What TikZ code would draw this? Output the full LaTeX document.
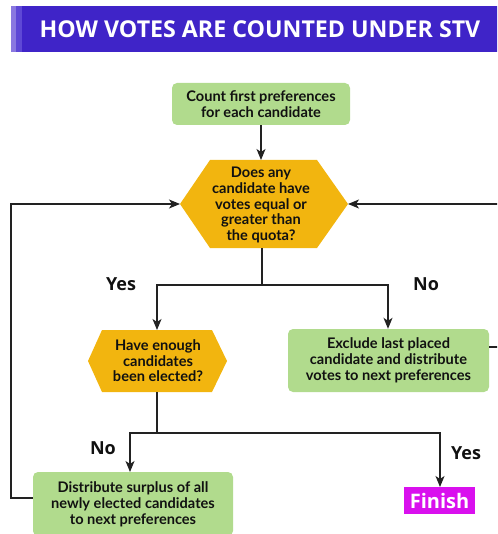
\documentclass[tikz,border=0pt]{standalone}
\usepackage{fontspec}
\setmainfont{Lato}
\newfontfamily\titlefont{Open Sans}
\usetikzlibrary{arrows.meta}
\definecolor{barmain}{HTML}{3F24C8}
\definecolor{barlight}{HTML}{8A78E0}
\definecolor{barmid}{HTML}{5E48D6}
\definecolor{boxgreen}{HTML}{B1DB8D}
\definecolor{hexorange}{HTML}{F2B50F}
\definecolor{finmag}{HTML}{D910EE}
\definecolor{linegray}{HTML}{222222}
\definecolor{txtblack}{HTML}{111111}
\tikzset{
  greenbox/.style={fill=boxgreen, rounded corners=5pt, align=center, text=txtblack,
    font=\bfseries\fontsize{14.6}{16}\selectfont, inner sep=0pt},
  hextext/.style={align=center, text=txtblack, font=\bfseries\fontsize{14.6}{15.6}\selectfont, inner sep=0pt},
  conn/.style={draw=linegray, line width=1.3pt},
  arr/.style={conn, -{Stealth[length=11pt,width=9pt,inset=3pt]}},
  branchlabel/.style={font=\titlefont\bfseries\fontsize{18}{20}\selectfont, text=txtblack, inner sep=0pt},
}
\begin{document}
\begin{tikzpicture}[x=1pt,y=-1pt]
\useasboundingbox (0,0) rectangle (497,534);
\clip (0,0) rectangle (497,534);
% title bar
\fill[barlight] (11,6) rectangle (16,52);
\fill[barmid] (16,6) rectangle (22,52);
\fill[barmain] (22,6) rectangle (500,52);
\node[text=white, font=\titlefont\bfseries\fontsize{23.2}{26}\selectfont, inner sep=0pt] (title) at (260,29) {HOW VOTES ARE COUNTED UNDER STV};

% first box
\node[greenbox, minimum width=178pt, minimum height=42pt] (count) at (261,104) {Count first preferences\\for each candidate};

% hexagon A
\fill[hexorange] (180,204) -- (210,160) -- (317,160) -- (348,204) -- (317,248) -- (210,248) -- cycle;
\coordinate (hA-n) at (261,160);
\coordinate (hA-s) at (262,248);
\coordinate (hA-w) at (180,204);
\coordinate (hA-e) at (348,204);
\node[hextext] (quota) at (261,205) {Does any\\candidate have\\votes equal or\\greater than\\the quota?};

% hexagon B
\fill[hexorange] (88,361) -- (102,330) -- (212,330) -- (227,361) -- (212,392) -- (102,392) -- cycle;
\coordinate (hB-n) at (157,330);
\coordinate (hB-s) at (157,392);
\node[hextext] (enough) at (158,361) {Have enough\\candidates\\been elected?};

% exclude box
\node[greenbox, minimum width=201pt, minimum height=63pt] (excl) at (388.5,360.5) {Exclude last placed\\candidate and distribute\\votes to next preferences};

% distribute box
\node[greenbox, minimum width=200pt, minimum height=64pt] (dist) at (133,504) {Distribute surplus of all\\newly elected candidates\\to next preferences};

% finish
\node[fill=finmag, text=white, font=\titlefont\bfseries\fontsize{20}{22}\selectfont, minimum width=71pt, minimum height=27pt, inner sep=0pt] (finish) at (439.5,500.5) {Finish};

% labels
\node[branchlabel] (yes1) at (121,284) {Yes};
\node[branchlabel] (no1) at (426,284) {No};
\node[branchlabel] (no2) at (103,448) {No};
\node[branchlabel] (yes2) at (466,453) {Yes};

% connectors
\draw[arr] (count.south) -- (hA-n);
\coordinate (split1) at (262,285);
\draw[conn] (hA-s) -- (split1);
\draw[arr] (split1) -| (hB-n);
\draw[arr] (split1) -| ([xshift=-0.5pt]excl.north);
\coordinate (split2) at (157,433);
\draw[conn] (hB-s) -- (split2);
\coordinate (distin) at (130,472);
\coordinate (finin) at (440,487);
\draw[arr] (split2) -| (distin);
\draw[arr] (split2) -| (finin);
\coordinate (loopL) at (11,498);
\draw[arr] (dist.west |- loopL) -- (loopL) |- (hA-w);
\coordinate (loopR) at (505,347);
\draw[arr] (excl.east |- loopR) -- (loopR) |- (hA-e);
\end{tikzpicture}
\end{document}
